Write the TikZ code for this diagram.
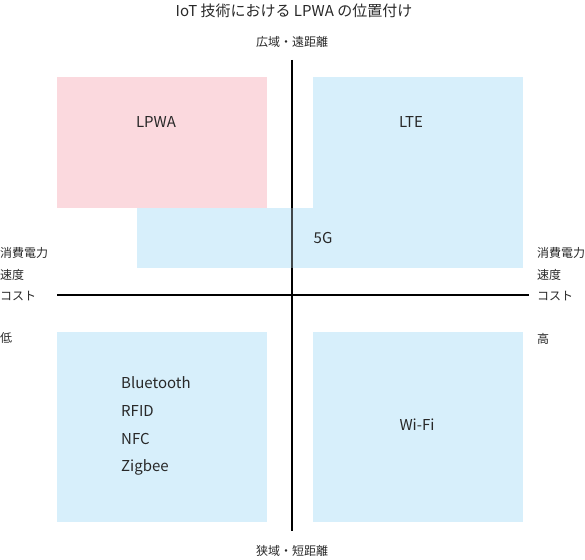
\documentclass[tikz,border=0pt]{standalone}
\usepackage{fontspec}
\setmainfont{Noto Sans CJK JP}

\definecolor{lpwapink}{RGB}{251,217,222}
\definecolor{areablue}{RGB}{215,239,251}
\definecolor{textgray}{RGB}{40,40,40}

\tikzset{
  areabox/.style={fill=#1, draw=none},
  axisline/.style={line width=2pt, black},
  boxlabel/.style={inner sep=0pt, text=textgray, font=\fontsize{15}{15}\selectfont},
  sidelabel/.style={inner sep=0pt, anchor=west, text=textgray, font=\fontsize{12}{12}\selectfont},
}

\begin{document}
\begin{tikzpicture}[x=1pt, y=-1pt]
      \useasboundingbox (0,0) rectangle (585,559);

      % Title
      \node[boxlabel] (title) at (294, 11) {IoT 技術における LPWA の位置付け};

      % Axes
      \coordinate (ytop) at (292, 60);
      \coordinate (ybot) at (292, 531);
      \coordinate (xleft) at (57, 295);
      \coordinate (xright) at (529, 295);
      \draw[axisline] (ytop) -- (ybot);
      \draw[axisline] (xleft) -- (xright);

      % Areas
      \fill[areabox=lpwapink] (57, 77) rectangle (267, 208);
      \fill[areabox=areablue] (313, 77) rectangle (523, 268);
      \fill[areabox=areablue] (137, 208) rectangle (523, 268);
      \fill[areabox=areablue] (57, 332) rectangle (267, 522);
      \fill[areabox=areablue] (313, 332) rectangle (523, 522);

      % axis seen through the 5G area
      \draw[line width=2pt, black!70!areablue] (292, 208) -- (292, 268);

      % Area labels
      \node[boxlabel] (lpwa) at (156, 122) {LPWA};
      \node[boxlabel] (lte) at (411, 122) {LTE};
      \node[boxlabel] (fiveg) at (323, 238) {5G};
      \node[boxlabel, anchor=west] (bt) at (121, 383) {Bluetooth};
      \node[boxlabel, anchor=west] (rfid) at (121, 411) {RFID};
      \node[boxlabel, anchor=west] (nfc) at (121, 439) {NFC};
      \node[boxlabel, anchor=west] (zigbee) at (121, 467) {Zigbee};
      \node[boxlabel] (wifi) at (417, 425) {Wi-Fi};

      % Axis labels
      \node[sidelabel, anchor=center] (wide) at (292, 42) {広域・遠距離};
      \node[sidelabel, anchor=center] (narrow) at (292, 551) {狭域・短距離};

      \node[sidelabel] (lpower) at (0, 253) {消費電力};
      \node[sidelabel] (lspeed) at (0, 275) {速度};
      \node[sidelabel] (lcost) at (0, 296) {コスト};
      \node[sidelabel] (low) at (0, 338) {低};

      \node[sidelabel] (rpower) at (537, 253) {消費電力};
      \node[sidelabel] (rspeed) at (537, 275) {速度};
      \node[sidelabel] (rcost) at (537, 296) {コスト};
      \node[sidelabel] (high) at (537, 339) {高};
\end{tikzpicture}
\end{document}
